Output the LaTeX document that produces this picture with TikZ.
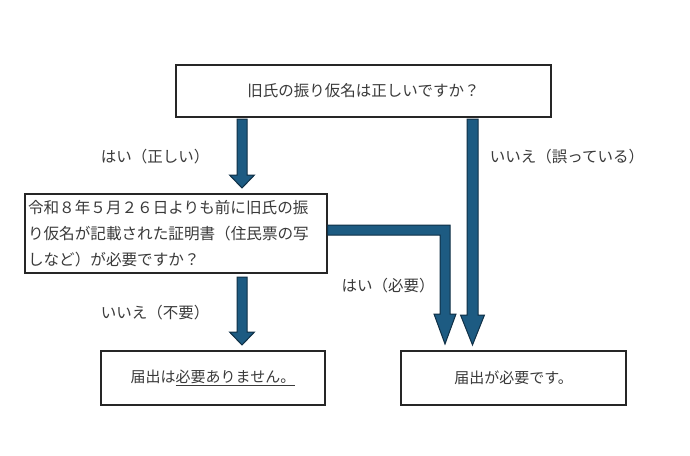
\documentclass[tikz,border=0pt]{standalone}
\usepackage{fontspec}
\setmainfont{Noto Sans CJK JP}
\usetikzlibrary{calc}
\definecolor{arrowfill}{HTML}{1D5B82}
\definecolor{arrowline}{HTML}{0F2F45}
\definecolor{txt}{HTML}{3A3A3A}
\begin{document}
\begin{tikzpicture}[x=1pt,y=-1pt,
  box/.style={draw=black!85, line width=1.2pt, fill=white, inner sep=0pt, text=txt, font=\fontsize{15pt}{18pt}\selectfont},
  lbl/.style={text=txt, inner sep=0pt, font=\fontsize{15.5pt}{18pt}\selectfont},
  fat/.style={fill=arrowfill, draw=arrowline, line width=1pt, line join=miter}]
\useasboundingbox (0,0) rectangle (690,455);
\fill[white] (0,0) rectangle (690,455);

\node[box, minimum width=375pt, minimum height=52pt, font=\fontsize{15.5pt}{18pt}\selectfont] (q1) at (363.5,91) {旧氏の振り仮名は正しいですか？};
\node[box, minimum width=302pt, minimum height=79pt, text width=296pt, align=left,
  font=\fontsize{15.6pt}{26pt}\selectfont] (q2) at (176,233.5)
  {令和８年５月２６日よりも前に旧氏の振\\り仮名が記載された証明書（住民票の写\\しなど）が必要ですか？};
\node[box, minimum width=224pt, minimum height=54pt] (r1) at (213,378) {届出は\underline{必要ありません。}};
\node[box, minimum width=225pt, minimum height=54pt] (r2) at (513.5,378) {届出が必要です。};

% arrow q1 -> q2
\path[fat] (237,119) -- (247,119) -- (247,175) -- (254.5,175) -- (242,188) -- (229.5,175) -- (237,175) -- cycle;
% arrow q1 -> r2 (いいえ)
\path[fat] (467,119) -- (478,119) -- (478,315) -- (484.5,315) -- (472.5,345) -- (460.5,315) -- (467,315) -- cycle;
% elbow q2 -> r2 (はい)
\path[fat] (q2.east |- 0,225) -- (450,225) -- (450,314) -- (456,314) -- (445,344) -- (434,314) -- (440,314) -- (440,235) -- (q2.east |- 0,235) -- cycle;
% arrow q2 -> r1
\path[fat] (237,277) -- (247,277) -- (247,332) -- (254.5,332) -- (242,345) -- (229.5,332) -- (237,332) -- cycle;

\node[lbl] (l1) at (155,157) {はい（正しい）};
\node[lbl] (l2) at (567,157) {いいえ（誤っている）};
\node[lbl] (l3) at (155,313) {いいえ（不要）};
\node[lbl] (l4) at (388,286) {はい（必要）};
\end{tikzpicture}
\end{document}
